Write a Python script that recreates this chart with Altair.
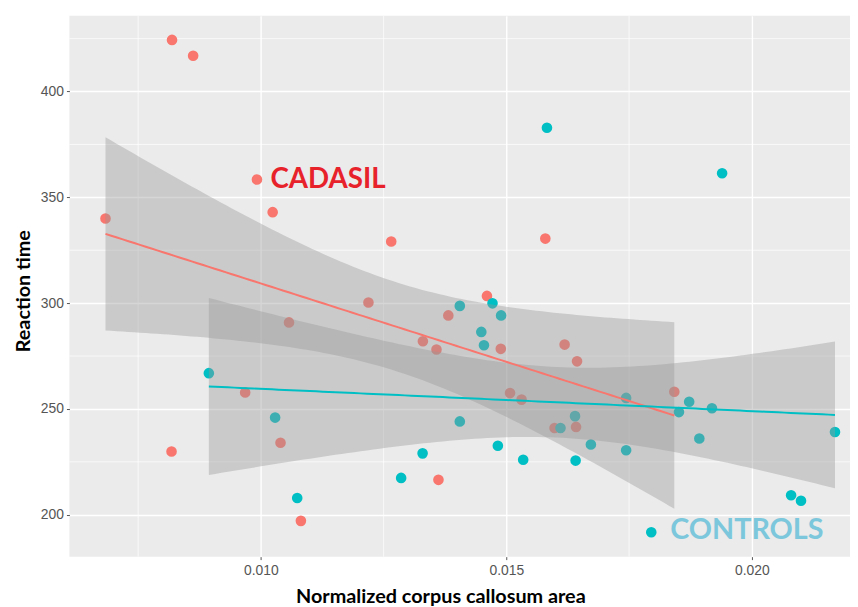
import altair as alt
import numpy as np
import pandas as pd

# ---- data ----
group_names = ["CADASIL", "CONTROLS"]
group_colors = ["#F8766D", "#00BFC4"]

cadasil_x = [0.00819, 0.00862, 0.00992, 0.01024, 0.006835, 0.012655, 0.015794, 0.014605,
             0.012191, 0.010573, 0.01330, 0.00968, 0.01040, 0.00818, 0.010815, 0.013818,
             0.014887, 0.013577, 0.016187, 0.01644, 0.015075, 0.01531, 0.018421, 0.015982,
             0.01642, 0.013617]
cadasil_y = [424.4, 416.9, 358.4, 343.0, 340.0, 329.1, 330.5, 303.4,
             300.3, 290.9, 282.0, 257.8, 234.0, 229.9, 197.1, 294.2,
             278.4, 278.1, 280.4, 272.5, 257.5, 254.4, 258.1, 241.0,
             241.5, 216.5]

controls_x = [0.015827, 0.019395, 0.00894, 0.01029, 0.013294, 0.012857, 0.01074, 0.014718,
              0.014052, 0.014893, 0.01449, 0.014544, 0.01744, 0.018724, 0.018516, 0.019188,
              0.014052, 0.016399, 0.016103, 0.018931, 0.021694, 0.016722, 0.014827, 0.01744,
              0.015343, 0.016411, 0.0208, 0.021002, 0.017952]
controls_y = [382.9, 361.4, 266.9, 245.9, 229.0, 217.4, 207.9, 299.9,
              298.7, 294.2, 286.4, 280.1, 255.2, 253.4, 248.5, 250.3,
              244.1, 246.6, 241.0, 236.0, 239.1, 233.2, 232.6, 230.5,
              226.0, 225.6, 209.2, 206.6, 191.7]

x_ticks = [0.010, 0.015, 0.020]
x_minor = [0.0075, 0.0125, 0.0175]
y_ticks = [200, 250, 300, 350, 400]
y_minor = [225, 275, 325, 375, 425]

label_text = ["CADASIL", "CONTROLS"]
label_x = [0.010196, 0.01834]
label_y = [354.4, 188.3]
label_sizes = [28, 29]
label_colors = ["#E8222B", "#7CC7DB"]

x_domain = [0.0061, 0.0220]
y_domain = [180.2, 435.8]

# ---- tables ----
pts = pd.DataFrame({
    "x": cadasil_x + controls_x,
    "y": cadasil_y + controls_y,
    "group": [group_names[0]] * len(cadasil_x) + [group_names[1]] * len(controls_x),
})


def lm_band(xs, ys, name, n=100):
    x = np.asarray(xs, float)
    y = np.asarray(ys, float)
    nobs = len(x)
    b, a = np.polyfit(x, y, 1)
    resid = y - (a + b * x)
    s = np.sqrt((resid ** 2).sum() / (nobs - 2))
    xbar = x.mean()
    sxx = ((x - xbar) ** 2).sum()
    df = nobs - 2
    z = 1.959964
    t = z + (z ** 3 + z) / (4 * df) + (5 * z ** 5 + 16 * z ** 3 + 3 * z) / (96 * df ** 2)
    g = np.linspace(x.min(), x.max(), n)
    f = a + b * g
    se = s * np.sqrt(1 / nobs + (g - xbar) ** 2 / sxx)
    return pd.DataFrame({"x": g, "y": f, "lo": f - t * se, "hi": f + t * se, "group": name})


smooth = pd.concat([lm_band(cadasil_x, cadasil_y, group_names[0]),
                    lm_band(controls_x, controls_y, group_names[1])], ignore_index=True)

labels = pd.DataFrame({"x": label_x, "y": label_y, "label": label_text,
                       "color": label_colors, "size": label_sizes})
xminor_df = pd.DataFrame({"x": x_minor})
yminor_df = pd.DataFrame({"y": y_minor})

# ---- encodings ----
xscale = alt.Scale(domain=x_domain, nice=False, zero=False)
yscale = alt.Scale(domain=y_domain, nice=False, zero=False)
xaxis = alt.Axis(title="Normalized corpus callosum area", values=x_ticks, format=".3f",
                 titleX=374.5, titleY=46, titleAlign="center", titleBaseline="alphabetic",
                 labelPadding=4)
yaxis = alt.Axis(title="Reaction time", values=y_ticks, format="d",
                 titleX=-40, titleY=277.5, titleAngle=270, titleAlign="center",
                 titleBaseline="alphabetic", labelPadding=3)


def X(field="x"):
    return alt.X(f"{field}:Q", scale=xscale, axis=xaxis)


def Y(field="y"):
    return alt.Y(f"{field}:Q", scale=yscale, axis=yaxis)


color = alt.Color("group:N", scale=alt.Scale(domain=group_names, range=group_colors), legend=None)

vminor = alt.Chart(xminor_df).mark_rule(color="white", strokeWidth=0.7).encode(x=X())
hminor = alt.Chart(yminor_df).mark_rule(color="white", strokeWidth=0.7).encode(y=Y())

points = alt.Chart(pts).mark_circle(size=115, opacity=1).encode(x=X(), y=Y(), color=color)

bands = alt.Chart(smooth).mark_area(color="#999999", opacity=0.4, clip=True).encode(
    x=X(), y=Y("lo"), y2=alt.Y2("hi:Q"), detail="group:N")

lines = alt.Chart(smooth).mark_line(strokeWidth=2, clip=True).encode(
    x=X(), y=Y(), color=color)

texts = alt.Chart(labels).mark_text(align="left", baseline="alphabetic", font="Lato",
                                    fontWeight="bold").encode(
    x=X(), y=Y(), text="label:N", color=alt.Color("color:N", scale=None),
    size=alt.Size("size:Q", scale=None, legend=None))

chart = alt.layer(vminor, hminor, points, bands, lines, texts).properties(
    width=788, height=546,
    autosize=alt.AutoSizeParams(type="none"),
    padding={"left": 62, "top": 5, "right": 0, "bottom": 48},
    background="white",
).configure_view(
    fill="#EBEBEB", strokeWidth=0
).configure_axis(
    grid=True, gridColor="white", gridWidth=1.4, domain=False,
    tickColor="#555555", tickSize=3, tickWidth=1,
    labelFont="Liberation Sans", labelFontSize=14, labelColor="#555555",
    titleFont="Lato", titleFontSize=20, titleFontWeight="bold", titleColor="black",
)

chart.save("out.html", embed_options={"renderer": "svg", "actions": False})
